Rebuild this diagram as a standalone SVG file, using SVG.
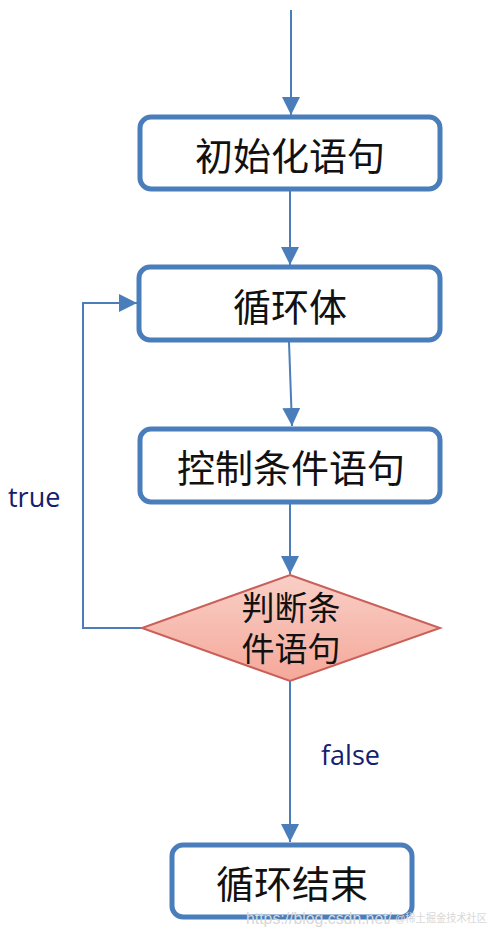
<svg xmlns="http://www.w3.org/2000/svg" width="500" height="939" viewBox="0 0 500 939">
<defs>
<marker id="arr" markerUnits="userSpaceOnUse" markerWidth="20" markerHeight="20" refX="18" refY="9" orient="auto">
<path d="M0,0 L18,9 L0,18 Z" fill="#4a7ebb"/>
</marker>
<linearGradient id="pink" x1="0" y1="0" x2="0" y2="1">
<stop offset="0" stop-color="#f9cfc6"/>
<stop offset="1" stop-color="#f5a89a"/>
</linearGradient>
</defs>
<style>
.box{fill:#ffffff;stroke:#4a7ebb;stroke-width:5}
.lbl{font-family:"Noto Sans CJK SC",sans-serif;font-size:38px;fill:#111;text-anchor:middle;dominant-baseline:central}
.dlbl{font-family:"Liberation Sans","Noto Sans CJK SC",sans-serif;font-size:33px;fill:#111;text-anchor:middle}
.edge{fill:none;stroke:#4a7ebb;stroke-width:2;marker-end:url(#arr)}
.elbl{font-family:"Open Sans",sans-serif;font-size:27px;fill:#14206e}
.wm{font-family:"Liberation Sans","Noto Sans CJK SC",sans-serif;fill:#d8d8d8}
</style>
<rect width="500" height="939" fill="#ffffff"/>
<g id="connectors">
<path class="edge" d="M291,10 L291,115"/>
<path class="edge" d="M290,190 L290,265"/>
<path class="edge" d="M289,342 L292,426"/>
<path class="edge" d="M290,504 L290,574"/>
<path class="edge" d="M142,628 L83,628 L83,303 L137,303"/>
<path class="edge" d="M290,681 L290,842"/>
</g>
<g id="labels">
<text class="elbl" x="8" y="507">true</text>
<text class="elbl" x="321" y="765">false</text>
</g>
<g id="init">
<rect class="box" x="140" y="117" width="300" height="72" rx="11"/>
<text class="lbl" x="290" y="153">初始化语句</text>
</g>
<g id="body">
<rect class="box" x="139" y="267" width="301" height="73" rx="11"/>
<text class="lbl" x="290" y="304">循环体</text>
</g>
<g id="control">
<rect class="box" x="140" y="429" width="300" height="73" rx="11"/>
<text class="lbl" x="291" y="465">控制条件语句</text>
</g>
<g id="cond">
<path d="M290,575 L440,628 L290,681 L142,628 Z" fill="url(#pink)" stroke="#c9605a" stroke-width="2"/>
<text class="dlbl" x="291" y="620">判断条</text>
<text class="dlbl" x="291" y="661">件语句</text>
</g>
<g id="end">
<rect class="box" x="172" y="845" width="240" height="72" rx="11"/>
<text class="lbl" x="292" y="881">循环结束</text>
</g>
<g id="watermark">
<text class="wm" x="246" y="924" font-size="17" textLength="146" lengthAdjust="spacingAndGlyphs">https://blog.csdn.net/</text>
<text class="wm" x="395" y="922" font-size="11" fill="#c8c8c8" textLength="92" lengthAdjust="spacingAndGlyphs">@稀土掘金技术社区</text>
</g>
</svg>
